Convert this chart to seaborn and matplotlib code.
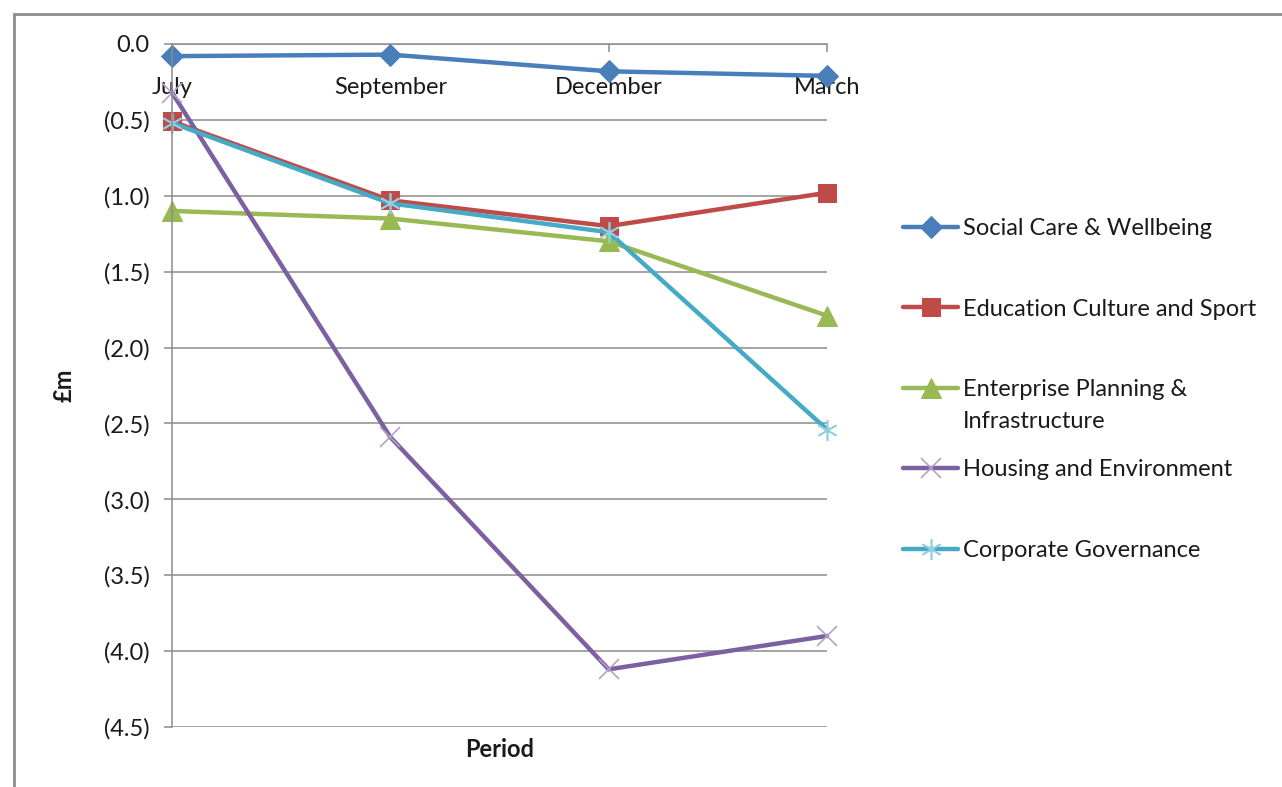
import numpy as np
import pandas as pd
import matplotlib
matplotlib.use("Agg")
import matplotlib.pyplot as plt
from matplotlib.patches import Rectangle
from matplotlib.ticker import FuncFormatter
import seaborn as sns

# ---- data (values in £m) ----
periods = ["July", "September", "December", "March"]
social_care = [-0.08, -0.07, -0.18, -0.21]
education = [-0.51, -1.03, -1.20, -0.98]
enterprise = [-1.10, -1.15, -1.30, -1.79]
housing = [-0.32, -2.59, -4.12, -3.90]
corporate = [-0.52, -1.05, -1.24, -2.54]
series_names = [
    "Social Care & Wellbeing",
    "Education Culture and Sport",
    "Enterprise Planning &\nInfrastructure",
    "Housing and Environment",
    "Corporate Governance",
]
y_ticks = [0.0, -0.5, -1.0, -1.5, -2.0, -2.5, -3.0, -3.5, -4.0, -4.5]

sns.set_theme(style="white")
plt.rcParams["font.family"] = ["Lato", "DejaVu Sans"]

W, H = 1282, 787
fig = plt.figure(figsize=(W / 100, H / 100), dpi=100)
ax = fig.add_axes([172 / W, 1 - 727 / H, (827 - 172) / W, (727 - 44) / H])

styles = [
    dict(color="#4A7EBB", marker="D", markersize=11, markeredgecolor="#4A7EBB", markerfacecolor="#4A7EBB"),
    dict(color="#BE4B48", marker="s", markersize=13, markeredgecolor="#BE4B48", markerfacecolor="#BE4B48"),
    dict(color="#98B954", marker="^", markersize=14, markeredgecolor="#98B954", markerfacecolor="#98B954"),
    dict(color="#7D60A0", marker="x", markersize=15, markeredgecolor="#B3A2C7", markeredgewidth=1.2),
    dict(color="#46AAC5", marker=(6, 2, 0), markersize=15, markeredgecolor="#8FD0E2", markeredgewidth=1.2),
]
all_series = [social_care, education, enterprise, housing, corporate]

# legend entries: first line goes in the legend row, wrapped lines are placed beneath it
legend_first = [n.split("\n")[0] for n in series_names]
legend_rest = [n.split("\n")[1:] for n in series_names]

for name, vals, st in zip(legend_first, all_series, styles):
    sns.lineplot(x=periods, y=vals, ax=ax, label=name, linewidth=3.2,
                 clip_on=False, sort=False, **st)

ax.set_xlim(0, 3)
ax.set_ylim(-4.5, 0)
ax.set_yticks(y_ticks)
ax.yaxis.set_major_formatter(FuncFormatter(
    lambda v, p: "0.0" if abs(v) < 1e-9 else f"({abs(v):.1f})"))

grid_c = "#8C8C8C"
text_c = "#1a1a1a"
ax.yaxis.grid(True, color=grid_c, linewidth=1.1)
ax.xaxis.grid(False)
for s in ["top", "right"]:
    ax.spines[s].set_visible(False)
ax.spines["bottom"].set_position(("data", 0))
ax.spines["bottom"].set_color(grid_c)
ax.spines["left"].set_color(grid_c)
ax.spines["bottom"].set_linewidth(1.1)
ax.spines["left"].set_linewidth(1.1)

ax.tick_params(axis="x", direction="out", length=6, width=1.1, color=grid_c,
               pad=18, labelsize=17, labelcolor=text_c, bottom=True)
ax.tick_params(axis="y", direction="out", length=6, width=1.1, color=grid_c,
               pad=10, labelsize=17, labelcolor=text_c, left=True)

ax.set_xlabel("Period", fontsize=17, fontweight="bold", color=text_c)
ax.xaxis.set_label_coords(0.5, -0.016)
ax.set_ylabel("£m", fontsize=17, fontweight="bold", color=text_c)
ax.yaxis.set_label_coords(-0.147, 0.5)

handles, labels = ax.get_legend_handles_labels()
leg = ax.legend(handles, labels, loc="upper left", bbox_to_anchor=(903 / W, 1 - 218 / H),
                bbox_transform=fig.transFigure, frameon=False, fontsize=17,
                handlelength=2.35, handletextpad=0.2, labelspacing=2.52, borderpad=0,
                borderaxespad=0, labelcolor=text_c)

# outer chart frame
fig.add_artist(Rectangle((14 / W, -0.5), 2, 1.5 - 14 / H, transform=fig.transFigure,
                         fill=False, edgecolor="#8C8C8C", linewidth=2))

fig.canvas.draw()
for t, rest in zip(leg.get_texts(), legend_rest):
    if not rest:
        continue
    bb = t.get_window_extent()
    for i, line in enumerate(rest, start=1):
        fig.text(bb.x0 / W, (bb.y0 - 32 * i) / H, line, fontsize=17,
                 color=text_c, ha="left", va="bottom")

fig.savefig("out.png", dpi=100)
